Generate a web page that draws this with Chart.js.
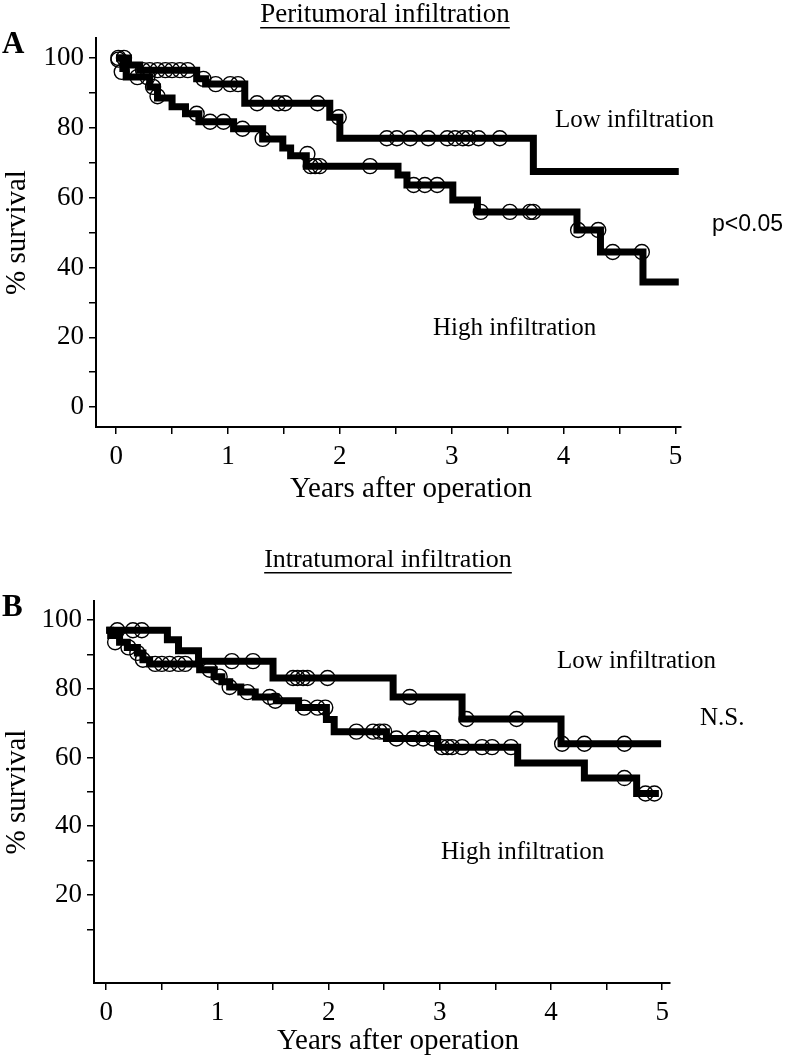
<!DOCTYPE html>
<html>
<head>
<meta charset="utf-8">
<script src="https://cdn.jsdelivr.net/npm/chart.js@4.4.1/dist/chart.umd.min.js"></script>
<style>
    html, body { margin: 0; padding: 0; background: #fff; }
    .panel { position: absolute; left: 0; }
    #panelA { top: 0; }
    #panelB { top: 525px; }
</style>
</head>
<body>
<div class="panel" id="panelA"><canvas id="chartA" width="786" height="525"></canvas></div>
<div class="panel" id="panelB"><canvas id="chartB" width="786" height="532"></canvas></div>
<script>
// Kaplan-Meier steps: time (years) where a level starts, and that level (% survival)
// Panel A - peritumoral infiltration
const aLowTime = [0, 0.11, 0.21, 0.72, 0.80, 1.15, 1.91, 2.00, 3.73, 5.03];
const aLowSurv = [100, 98, 96.5, 94, 92.5, 87, 83, 77, 67.5, 67.5];
const aLowCensTime = [0.02, 0.07, 0.24, 0.30, 0.37, 0.44, 0.50, 0.57, 0.64, 0.78, 0.89, 1.02, 1.09, 1.26, 1.45, 1.51, 1.80, 1.99, 2.42, 2.51, 2.63, 2.79, 2.96, 3.03, 3.10, 3.15, 3.24, 3.43];
const aLowCensSurv = [100, 100, 96.5, 96.5, 96.5, 96.5, 96.5, 96.5, 96.5, 94, 92.5, 92.5, 92.5, 87, 87, 87, 87, 83, 77, 77, 77, 77, 77, 77, 77, 77, 77, 77];

const aHighTime = [0, 0.06, 0.09, 0.30, 0.37, 0.50, 0.62, 0.74, 1.05, 1.31, 1.49, 1.56, 1.70, 2.52, 2.60, 3.01, 3.23, 4.12, 4.33, 4.71, 5.03];
const aHighSurv = [100, 97, 94.5, 91.7, 88.5, 86, 84, 81.7, 79.7, 76.8, 74.2, 72, 69, 66.5, 63.6, 59.3, 55.9, 50.7, 44.4, 35.8, 35.8];
const aHighCensTime = [0.02, 0.05, 0.19, 0.28, 0.33, 0.37, 0.72, 0.84, 0.96, 1.13, 1.31, 1.71, 1.74, 1.78, 1.82, 2.27, 2.66, 2.76, 2.87, 3.26, 3.52, 3.70, 3.73, 4.13, 4.31, 4.44, 4.70];
const aHighCensSurv = [99.5, 96, 94.5, 94.5, 91.7, 89, 84, 81.7, 81.7, 79.7, 76.8, 72.5, 69, 69, 69, 69, 63.6, 63.6, 63.6, 55.9, 55.9, 55.9, 55.9, 50.7, 50.7, 44.4, 44.4];

// Panel B - intratumoral infiltration
const bLowTime = [0, 0.55, 0.65, 0.83, 1.50, 2.58, 3.20, 4.09, 4.99];
const bLowSurv = [97, 94.2, 91, 88, 83.1, 77.6, 71.2, 64, 64];
const bLowCensTime = [0.10, 0.24, 0.32, 1.13, 1.32, 1.68, 1.72, 1.77, 1.81, 1.99, 2.73, 3.24, 3.69, 4.10, 4.30, 4.66];
const bLowCensSurv = [97, 97, 97, 88, 88, 83.1, 83.1, 83.1, 83.1, 83.1, 77.6, 71.2, 71.2, 64, 64, 64];

const bHighTime = [0, 0.04, 0.12, 0.19, 0.28, 0.33, 0.39, 0.84, 0.97, 1.04, 1.11, 1.21, 1.34, 1.53, 1.73, 1.98, 2.05, 2.52, 2.98, 3.70, 4.30, 4.77, 4.97];
const bHighSurv = [97, 95.5, 93.5, 92, 90.4, 88.4, 87.2, 85.5, 83.5, 82, 80.5, 79, 77.6, 76.5, 74.5, 71, 67.5, 65.5, 63, 58.4, 54, 49.5, 49.5];
const bHighCensTime = [0.08, 0.20, 0.28, 0.33, 0.44, 0.50, 0.57, 0.65, 0.71, 0.93, 1.02, 1.11, 1.27, 1.47, 1.52, 1.78, 1.90, 1.97, 2.25, 2.40, 2.46, 2.50, 2.61, 2.76, 2.85, 2.94, 3.02, 3.07, 3.11, 3.20, 3.38, 3.47, 3.64, 4.66, 4.85, 4.93];
const bHighCensSurv = [93.5, 92, 90.4, 88.4, 87.2, 87.2, 87.2, 87.2, 87.2, 85.5, 83.5, 80.5, 79, 77.6, 76.5, 74.5, 74.5, 74.5, 67.5, 67.5, 67.5, 67.5, 65.5, 65.5, 65.5, 65.5, 63, 63, 63, 63, 63, 63, 63, 54, 49.5, 49.5];

// Axis ticks
const xTicks = [0, 0.5, 1, 1.5, 2, 2.5, 3, 3.5, 4, 4.5, 5];
const xLabels = [0, 1, 2, 3, 4, 5];
const yTicksA = [0, 10, 20, 30, 40, 50, 60, 70, 80, 90, 100];
const yTicksB = [10, 20, 30, 40, 50, 60, 70, 80, 90, 100];
const yLabels = [0, 20, 40, 60, 80, 100];

const SERIF = "'Liberation Serif', 'Times New Roman', serif";
Chart.defaults.color = '#000';
Chart.defaults.font.family = SERIF;

const toPoints = (xs, ys) => xs.map((x, i) => ({ x: x, y: ys[i] }));

// draws panel letters, titles, x-axis title and curve labels
const panelText = {
    id: 'panelText',
    afterDraw(chart, args, opts) {
        const ctx = chart.ctx;
        ctx.save();
        ctx.fillStyle = '#000';
        ctx.textBaseline = 'middle';
        (opts.items || []).forEach(it => {
            ctx.font = it.font;
            ctx.textAlign = it.align || 'left';
            ctx.fillText(it.text, it.x, it.y);
            if (it.underline) {
                const w = ctx.measureText(it.text).width;
                const x0 = it.align === 'center' ? it.x - w / 2 : it.x;
                ctx.fillRect(x0, it.y + it.underline, w, 1.5);
            }
        });
        ctx.restore();
    }
};

function kmLine(xs, ys) {
    return {
        data: toPoints(xs, ys),
        showLine: true,
        stepped: 'before',
        borderColor: '#000',
        borderWidth: 7,
        pointRadius: 0,
        fill: false,
        order: 2
    };
}

function censored(xs, ys) {
    return {
        data: toPoints(xs, ys),
        showLine: false,
        pointStyle: 'circle',
        pointRadius: 7.5,
        pointBorderWidth: 1.4,
        pointBorderColor: '#000',
        pointBackgroundColor: 'rgba(0,0,0,0)',
        order: 1
    };
}

function makePanel(canvasId, cfg) {
    new Chart(document.getElementById(canvasId), {
        type: 'scatter',
        data: { datasets: cfg.datasets },
        options: {
            responsive: false,
            animation: false,
            events: [],
            layout: { padding: cfg.padding },
            plugins: {
                legend: { display: false },
                tooltip: { enabled: false },
                panelText: { items: cfg.texts }
            },
            scales: {
                x: {
                    type: 'linear',
                    min: cfg.xMin,
                    max: cfg.xMax,
                    afterBuildTicks: s => { s.ticks = xTicks.map(v => ({ value: v })); },
                    afterFit: s => { s.height = cfg.bottomHeight; },
                    grid: { display: true, drawOnChartArea: false, drawTicks: true, tickLength: 7, color: '#000', lineWidth: 1.5 },
                    border: { display: true, color: '#000', width: 2 },
                    ticks: {
                        autoSkip: false,
                        maxRotation: 0,
                        padding: 7,
                        font: { size: 27, family: SERIF },
                        callback: v => xLabels.includes(v) ? String(v) : ''
                    },
                    title: { display: false }
                },
                y: {
                    type: 'linear',
                    min: cfg.yMin,
                    max: cfg.yMax,
                    afterBuildTicks: s => { s.ticks = cfg.yTicks.map(v => ({ value: v })); },
                    afterFit: s => { s.width = cfg.leftWidth; },
                    grid: { display: true, drawOnChartArea: false, drawTicks: true, tickLength: 7, color: '#000', lineWidth: 1.5 },
                    border: { display: true, color: '#000', width: 2 },
                    ticks: {
                        autoSkip: false,
                        padding: 5,
                        font: { size: 27, family: SERIF },
                        callback: v => yLabels.includes(v) ? String(v) : ''
                    },
                    title: {
                        display: true,
                        text: '% survival',
                        font: { size: 29, family: SERIF },
                        padding: { top: 0, bottom: 0 }
                    }
                }
            }
        },
        plugins: [panelText]
    });
}

makePanel('chartA', {
    datasets: [
        kmLine(aLowTime, aLowSurv),
        kmLine(aHighTime, aHighSurv),
        censored(aLowCensTime, aLowCensSurv),
        censored(aHighCensTime, aHighCensSurv)
    ],
    padding: { top: 38, right: 105, bottom: 0, left: 0 },
    xMin: -0.18, xMax: 5.05,
    yMin: -5.7, yMax: 105.7,
    yTicks: yTicksA,
    leftWidth: 96,
    bottomHeight: 98,
    texts: [
        { text: 'A', x: 2, y: 45, font: "bold 31px " + SERIF },
        { text: 'Peritumoral infiltration', x: 385, y: 15, font: "27px " + SERIF, align: 'center', underline: 12 },
        { text: 'Years after operation', x: 411, y: 489, font: "29px " + SERIF, align: 'center' },
        { text: 'Low infiltration', x: 555, y: 120, font: "25px " + SERIF },
        { text: 'High infiltration', x: 433, y: 328, font: "25px " + SERIF },
        { text: 'p<0.05', x: 712, y: 225, font: "23px 'Liberation Sans', Arial, sans-serif" }
    ]
});

makePanel('chartB', {
    datasets: [
        kmLine(bLowTime, bLowSurv),
        kmLine(bHighTime, bHighSurv),
        censored(bLowCensTime, bLowCensSurv),
        censored(bHighCensTime, bHighCensSurv)
    ],
    padding: { top: 76, right: 116, bottom: 0, left: 0 },
    xMin: -0.11, xMax: 5.07,
    yMin: -5.6, yMax: 105.5,
    yTicks: yTicksB,
    leftWidth: 94,
    bottomHeight: 74,
    texts: [
        { text: 'B', x: 2, y: 83, font: "bold 31px " + SERIF },
        { text: 'Intratumoral infiltration', x: 388, y: 35, font: "26px " + SERIF, align: 'center', underline: 12 },
        { text: 'Years after operation', x: 398, y: 516, font: "29px " + SERIF, align: 'center' },
        { text: 'Low infiltration', x: 557, y: 136, font: "25px " + SERIF },
        { text: 'High infiltration', x: 441, y: 327, font: "25px " + SERIF },
        { text: 'N.S.', x: 700, y: 193, font: "25px " + SERIF }
    ]
});
</script>
</body>
</html>
